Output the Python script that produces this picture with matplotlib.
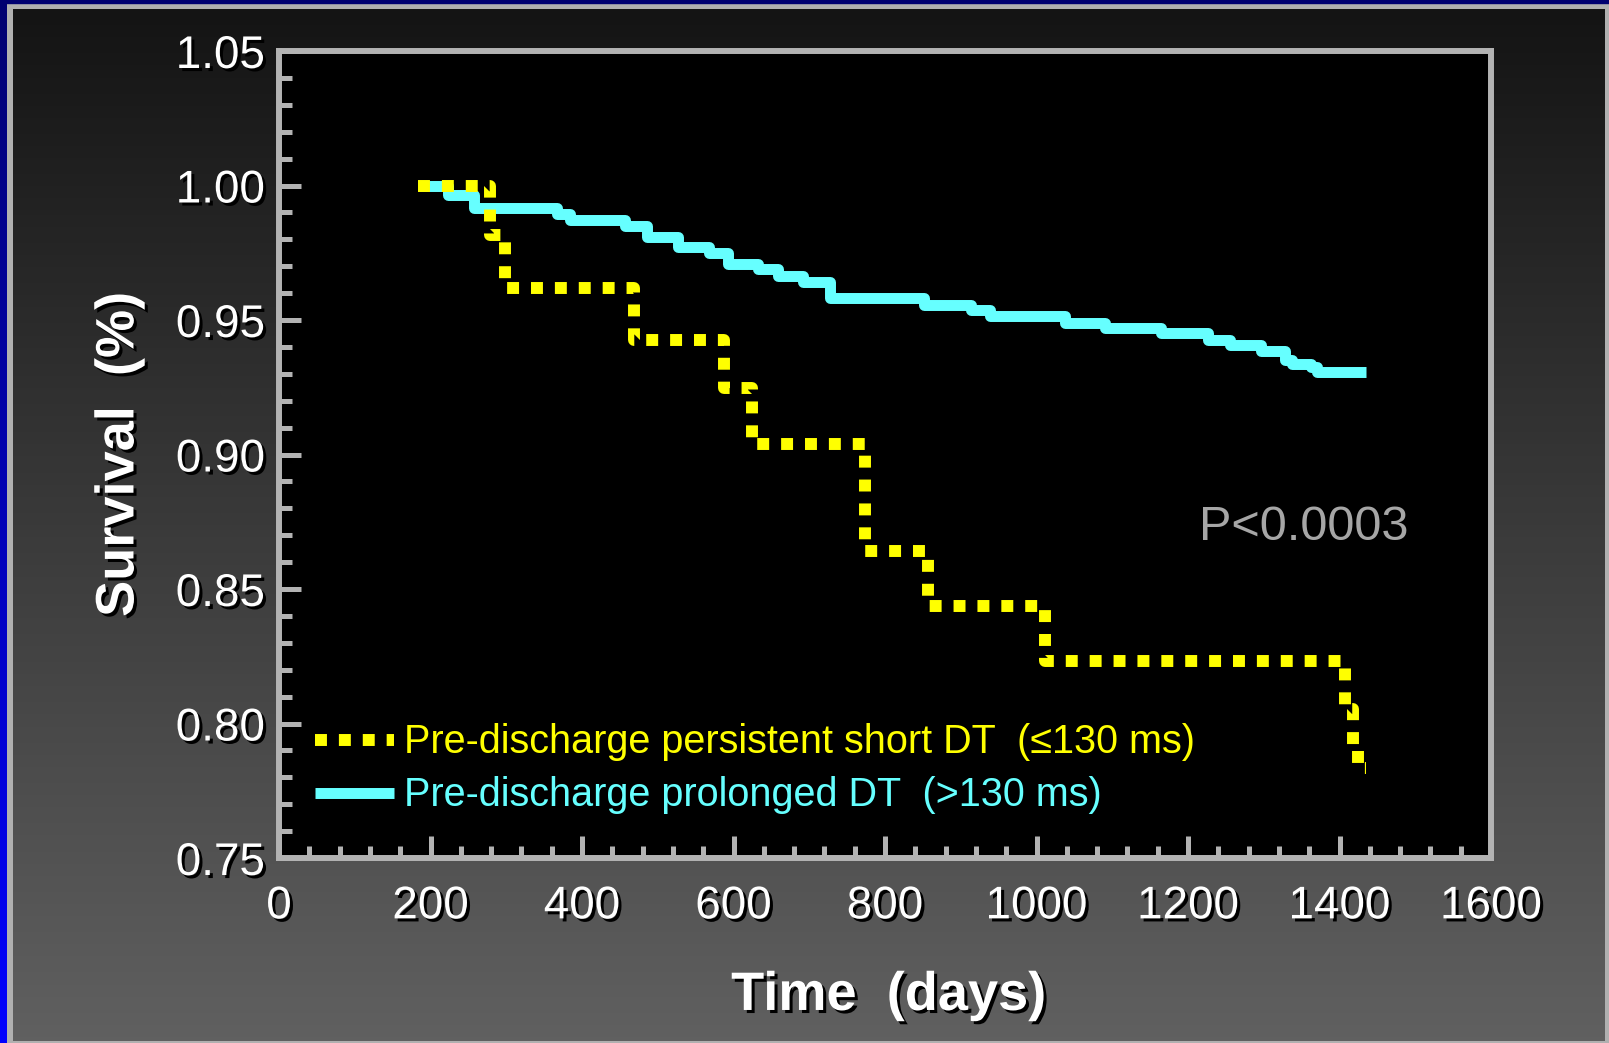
import numpy as np
import matplotlib
matplotlib.use("Agg")
import matplotlib.pyplot as plt
import matplotlib.patheffects as pe
from matplotlib.colors import LinearSegmentedColormap
from matplotlib.patches import Rectangle
from matplotlib.ticker import MultipleLocator, FormatStrFormatter

# Kaplan-Meier steps (days, survival)
short_days = [184, 279, 299, 468, 587, 624, 774, 857, 1011, 1407, 1418, 1425, 1435]
short_surv = [1.0, 0.9815, 0.962, 0.9425, 0.9247, 0.904, 0.8643, 0.8438, 0.8233, 0.8055, 0.790, 0.7835, 0.7835]

long_days = [184, 223, 258, 367, 384, 457, 486, 527, 567, 593, 632, 659, 692, 727,
             851, 914, 938, 1037, 1090, 1165, 1226, 1255, 1297, 1328, 1337, 1363, 1370, 1435]
long_surv = [1.0, 0.9965, 0.9915, 0.9893, 0.987, 0.985, 0.981, 0.977, 0.9748, 0.971,
             0.969, 0.9663, 0.964, 0.9583, 0.9557, 0.9539, 0.9514, 0.949, 0.9472, 0.9452,
             0.9424, 0.9406, 0.9385, 0.935, 0.9338, 0.9325, 0.9306, 0.9306]

x_ticks = [0, 200, 400, 600, 800, 1000, 1200, 1400, 1600]
y_ticks = [0.75, 0.80, 0.85, 0.90, 0.95, 1.00, 1.05]

short_label = "Pre-discharge persistent short DT  (\u2264130 ms)"
long_label = "Pre-discharge prolonged DT  (>130 ms)"
p_text = "P<0.0003"

plt.rcParams['font.family'] = ['Liberation Sans', 'DejaVu Sans']

W, H = 1609, 1043
fig = plt.figure(figsize=(W / 100, H / 100), dpi=100)
fig.patch.set_facecolor('#b0b0b0')

# slide background: dark gradient inside a grey border, blue edge on the left/top
bg = fig.add_axes([13 / W, 2 / H, (1605 - 13) / W, (1041 - 9) / H])
bg_cmap = LinearSegmentedColormap.from_list('bg', ['#141414', '#606060'])
bg.imshow(np.linspace(0, 1, 256).reshape(-1, 1), cmap=bg_cmap, aspect='auto',
          extent=(0, 1, 0, 1))
bg.axis('off')

edge = fig.add_axes([0, 0, 7 / W, 1])
edge_cmap = LinearSegmentedColormap.from_list('edge', ['#000070', '#0000ff'])
edge.imshow(np.linspace(0, 1, 256).reshape(-1, 1), cmap=edge_cmap, aspect='auto',
            extent=(0, 1, 0, 1))
edge.axis('off')
fig.add_artist(Rectangle((0, 1 - 3 / H), 1, 3 / H, transform=fig.transFigure,
                         color='#000070', zorder=5))

ax = fig.add_axes([279 / W, 1 - 858 / H, (1491 - 279) / W, (858 - 51) / H])
ax.set_facecolor('black')

l_long, = ax.plot(long_days, long_surv, drawstyle='steps-post', color='#66ffff',
                  lw=7.9, solid_joinstyle='round', solid_capstyle='butt',
                  label=long_label, zorder=3)
l_short, = ax.plot(short_days, short_surv, drawstyle='steps-post', color='#ffff00',
                   lw=8.6, linestyle=(0, (1, 1)), dash_capstyle='butt',
                   dash_joinstyle='round', label=short_label, zorder=4)

ax.set_xlim(0, 1600)
ax.set_ylim(0.75, 1.05)
ax.set_xticks(x_ticks)
ax.set_yticks(y_ticks)
ax.yaxis.set_major_formatter(FormatStrFormatter('%.2f'))
ax.xaxis.set_minor_locator(MultipleLocator(40))
ax.yaxis.set_minor_locator(MultipleLocator(0.01))

gray = '#b3b3b3'
ax.tick_params(which='both', direction='in', color=gray, width=3.6)
ax.tick_params(which='major', length=16, labelsize=33, labelcolor='white')
ax.tick_params(which='minor', length=9)
ax.tick_params(axis='x', pad=19)
ax.tick_params(axis='y', pad=10)
for s in ax.spines.values():
    s.set_color(gray)
    s.set_linewidth(4.3)

shadow = [pe.withSimplePatchShadow(offset=(2.2, -2.2), shadow_rgbFace='black', alpha=1.0)]
for lbl in ax.get_xticklabels() + ax.get_yticklabels():
    lbl.set_path_effects(shadow)

ax.set_ylabel("Survival  (%)", fontsize=39, fontweight='bold', color='white',
              path_effects=shadow)
ax.yaxis.set_label_coords(-0.111, 0.5)
ax.set_xlabel("Time  (days)", fontsize=39, fontweight='bold', color='white',
              path_effects=shadow)
ax.xaxis.set_label_coords(0.503, -0.140)

ax.text(1353, 0.873, p_text, fontsize=35, color='#a6a6a6', ha='center', va='center')

leg = ax.legend(handles=[l_short, l_long], loc='lower left',
                bbox_to_anchor=(0.0297, 0.054), frameon=False, fontsize=28.5,
                labelcolor='linecolor', handlelength=2.0, handletextpad=0.25,
                labelspacing=0.38, borderpad=0, borderaxespad=0)

fig.savefig("out.png", dpi=100, facecolor=fig.get_facecolor())
